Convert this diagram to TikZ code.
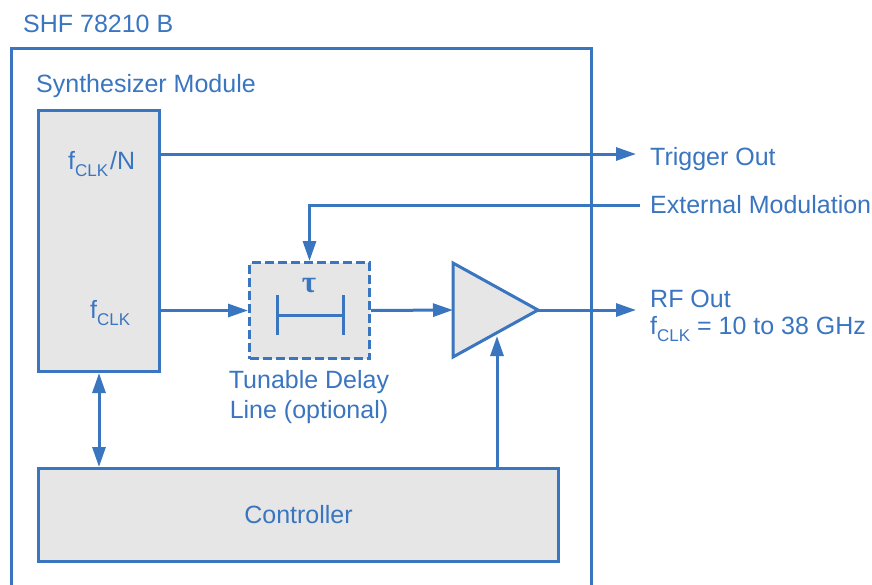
\documentclass[tikz,border=0pt]{standalone}
\usepackage{fontspec}
\setmainfont{Liberation Sans}
\newfontfamily\taufont{Liberation Serif}
\usetikzlibrary{arrows.meta}
\definecolor{sblue}{RGB}{58,117,192}
\definecolor{sgray}{RGB}{230,230,230}
\newcommand{\sbclk}{\raisebox{-7pt}{\fontsize{17}{17}\selectfont CLK}}
\begin{document}
\begin{tikzpicture}[x=1pt,y=-1pt,
  box/.style={draw=sblue, fill=sgray, line width=3pt, inner sep=0pt, anchor=north west},
  sig/.style={draw=sblue, line width=3pt, -{Triangle[length=20pt,width=13pt]}},
  wire/.style={draw=sblue, line width=3pt},
  lbl/.style={text=sblue, font=\fontsize{25}{30}\selectfont, inner sep=0pt}]
\useasboundingbox (0,0) rectangle (872,584);
% outer frame
\draw[wire] (11,600) -- (11,48) -- (591,48) -- (591,600);
\node[lbl, anchor=base west] (title) at (23,32) {SHF 78210 B};
\node[lbl, anchor=base west] (synlbl) at (36,92) {Synthesizer Module};
% boxes
\node[box, minimum width=121pt, minimum height=261pt] (syn) at (37,109) {};
\node[box, minimum width=520pt, minimum height=93pt, text=sblue, font=\fontsize{25}{30}\selectfont] (ctrl) at (37,467) {Controller};
\node[box, dashed, dash pattern=on 9pt off 4pt, minimum width=120pt, minimum height=96pt] (dly) at (248,261) {};
% delay symbol
\node[text=sblue, inner sep=0pt, font=\taufont\bfseries\fontsize{31}{31}\selectfont] (tau) at (309,286) {τ};
\coordinate (hl) at (277,315);
\coordinate (hr) at (343,315);
\draw[wire] (277,295) -- (277,335);
\draw[wire] (343,295) -- (343,335);
\draw[wire] (hl) -- (hr);
% amplifier
\coordinate (ampin) at (453,310);
\coordinate (amptip) at (538,310);
\coordinate (ampbot) at (497,336);
\draw[wire, fill=sgray, line join=miter] (453,263) -- (amptip) -- (453,357) -- cycle;
% labels in synth
\node[lbl, anchor=base west] (fn) at (68,169) {f\sbclk\hspace{2pt}/N};
\node[lbl, anchor=base west] (fc) at (90,318) {f\sbclk};
% output labels
\node[lbl, anchor=base west] (trig) at (650,165) {Trigger Out};
\node[lbl, anchor=base west] (ext) at (650,213) {External Modulation};
\node[lbl, anchor=base west] (rf) at (650,307) {RF Out};
\node[lbl, anchor=base west] (rff) at (650,334) {f\sbclk{} = 10 to 38 GHz};
\node[lbl, anchor=base] (dl1) at (309,388) {Tunable Delay};
\node[lbl, anchor=base] (dl2) at (309,418) {Line (optional)};
% connectors
\coordinate (trigtip) at (636,154);
\coordinate (extend) at (640,205);
\coordinate (rftip) at (636,310);
\draw[sig] (trigtip -| syn.east) -- (trigtip);
\draw[sig] (extend) -- (extend -| dly.north) -- (dly.north);
\draw[sig] (dly.west -| syn.east) -- (dly.west);
\draw[sig] (dly.east) -- (ampin);
\draw[sig] (amptip) -- (rftip);
\draw[sig] (ctrl.north -| ampbot) -- (ampbot);
\draw[sig, {Triangle[length=20pt,width=13pt]}-{Triangle[length=20pt,width=13pt]}] (syn.south) -- (ctrl.north -| syn.south);
\end{tikzpicture}
\end{document}
